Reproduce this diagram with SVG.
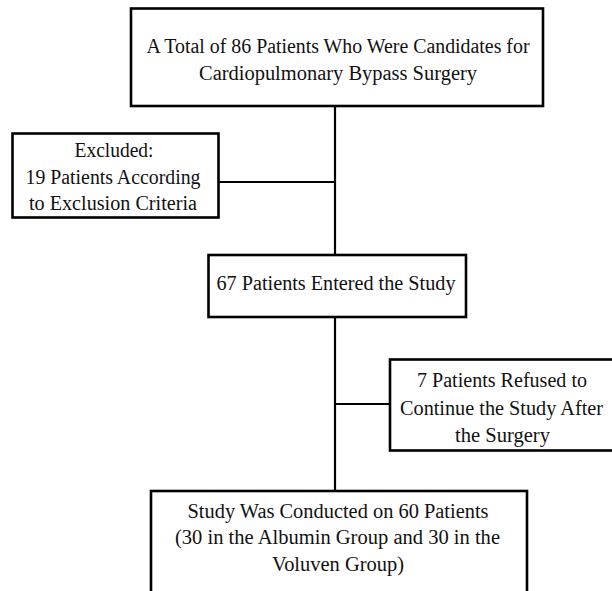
<svg xmlns="http://www.w3.org/2000/svg" width="612" height="591" viewBox="0 0 612 591">
<style>
.box{fill:#fff;stroke:#000;stroke-width:2.6}
.conn{stroke:#000;stroke-width:2.2;fill:none}
text{font-family:"Liberation Serif","DejaVu Serif",serif;font-size:20px;fill:#111;text-anchor:middle}
</style>
<rect width="612" height="591" fill="#fff"/>
<g id="connectors">
<line class="conn" x1="335" y1="106" x2="335" y2="256"/>
<line class="conn" x1="219" y1="182" x2="335" y2="182"/>
<line class="conn" x1="335" y1="317" x2="335" y2="491"/>
<line class="conn" x1="335" y1="404" x2="390" y2="404"/>
</g>
<g id="n1">
<rect class="box" x="131" y="8.5" width="412" height="97.5"/>
<text x="338" y="53" textLength="383" lengthAdjust="spacingAndGlyphs">A Total of 86 Patients Who Were Candidates for</text>
<text x="338" y="79.5" textLength="278" lengthAdjust="spacingAndGlyphs">Cardiopulmonary Bypass Surgery</text>
</g>
<g id="n2">
<rect class="box" x="12.5" y="133.5" width="206" height="84"/>
<text x="114" y="156.5" textLength="79" lengthAdjust="spacingAndGlyphs">Excluded:</text>
<text x="113" y="184" textLength="175" lengthAdjust="spacingAndGlyphs">19 Patients According</text>
<text x="113" y="210" textLength="168" lengthAdjust="spacingAndGlyphs">to Exclusion Criteria</text>
</g>
<g id="n3">
<rect class="box" x="208.5" y="255" width="257.5" height="62"/>
<text x="336" y="289.5" textLength="239" lengthAdjust="spacingAndGlyphs">67 Patients Entered the Study</text>
</g>
<g id="n4">
<rect class="box" x="390" y="359.5" width="226" height="91"/>
<text x="502" y="387" textLength="170" lengthAdjust="spacingAndGlyphs">7 Patients Refused to</text>
<text x="501.5" y="414.5" textLength="203" lengthAdjust="spacingAndGlyphs">Continue the Study After</text>
<text x="502.5" y="441.5" textLength="95" lengthAdjust="spacingAndGlyphs">the Surgery</text>
</g>
<g id="n5">
<rect class="box" x="151" y="491" width="376" height="110"/>
<text x="338" y="517.5" textLength="301" lengthAdjust="spacingAndGlyphs">Study Was Conducted on 60 Patients</text>
<text x="337.5" y="544" textLength="325" lengthAdjust="spacingAndGlyphs">(30 in the Albumin Group and 30 in the</text>
<text x="338" y="570.5" textLength="132" lengthAdjust="spacingAndGlyphs">Voluven Group)</text>
</g>
</svg>
